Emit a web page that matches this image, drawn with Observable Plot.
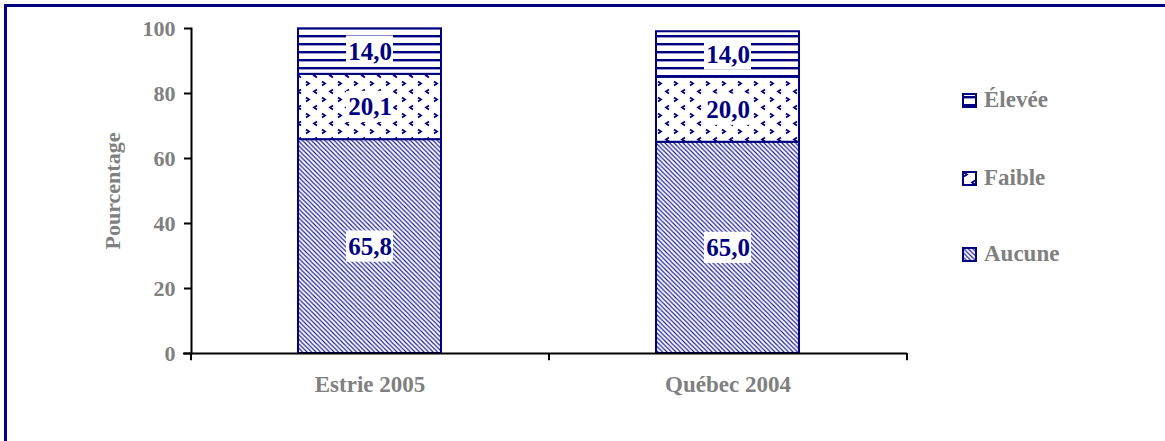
<!DOCTYPE html>
<html>
<head>
<meta charset="utf-8">
<script src="https://cdn.jsdelivr.net/npm/d3@7"></script>
<script src="https://cdn.jsdelivr.net/npm/@observablehq/plot@0.6"></script>
<style>
  html, body { margin: 0; padding: 0; background: #fff; overflow: hidden; }
  body { width: 1165px; height: 441px; position: relative; }
  #frame { position: absolute; left: 4px; top: 4px; width: 1200px; height: 500px; border: 3px solid #000080; box-sizing: border-box; z-index: 10; pointer-events: none; }
  #chart { position: absolute; left: 0; top: 0; }
  #legend { position: absolute; left: 962px; top: 0; font-family: "Liberation Serif", "Times New Roman", serif; font-weight: bold; font-size: 23px; color: #808080; }
  .item { position: absolute; left: 0; display: flex; align-items: center; white-space: nowrap; }
  .item svg { margin-right: 7px; }
</style>
</head>
<body>
<div id="frame"></div>
<div id="chart"></div>
<div id="legend"></div>
<script>
// ---- data ----
const categories = ["Estrie 2005", "Québec 2004"];
const seriesNames = ["Aucune", "Faible", "Élevée"];
const aucune = [65.8, 65.0];
const faible = [20.1, 20.0];
const elevee = [14.0, 14.0];
const yTicks = [0, 20, 40, 60, 80, 100];
const legendOrder = ["Élevée", "Faible", "Aucune"];

const seriesValues = [aucune, faible, elevee];
const patternIds = {"Aucune": "pat-aucune", "Faible": "pat-faible", "Élevée": "pat-elevee"};

// build stacked table
const rows = [];
categories.forEach((c, i) => {
  let base = 0;
  seriesNames.forEach((s, j) => {
    const v = seriesValues[j][i];
    rows.push({cat: c, serie: s, value: v, y1: base, y2: base + v, mid: base + v / 2});
    base += v;
  });
});

const navy = "#000080";
const gray = "#808080";
const font = "Liberation Serif, Times New Roman, serif";

const W = 1165, H = 441, ML = 191, MR = 258, MT = 28, MB = 88;
const pInner = 0.6, pOuter = 0.3;
const step = (W - ML - MR) / (categories.length - pInner + 2 * pOuter);

const plot = Plot.plot({
  width: W, height: H,
  marginLeft: ML, marginRight: MR, marginTop: MT, marginBottom: MB,
  style: {fontFamily: font, background: "white", overflow: "visible"},
  x: {domain: categories, paddingInner: pInner, paddingOuter: pOuter, label: null},
  y: {domain: [0, 100], label: null},
  color: {domain: seriesNames, range: seriesNames.map(s => `url(#${patternIds[s]})`)},
  marks: [
    Plot.rectY(rows, {x: "cat", y1: "y1", y2: "y2", fill: "serie", stroke: navy, strokeWidth: 2}),
    Plot.rectY(rows, {x: "cat", y1: d => d.mid - 4.8, y2: d => d.mid + 4.8, fill: "white", insetLeft: 48, insetRight: 48}),
    Plot.text(rows, {x: "cat", y: "mid", text: d => d.value.toFixed(1).replace(".", ","), fill: navy, fontWeight: "bold", fontSize: 25, fontFamily: font}),
    Plot.axisY({ticks: yTicks, tickSize: 7, tickPadding: 9, stroke: "black", strokeWidth: 2, fill: gray, fontSize: 22, fontWeight: "bold", fontFamily: font,
      label: "Pourcentage", labelAnchor: "center", labelOffset: 87, labelArrow: "none"}),
    Plot.axisX({tickSize: 0, tickPadding: 22, fill: gray, fontSize: 23, fontWeight: "bold", fontFamily: font, label: null}),
    Plot.frame({anchor: "left", stroke: "black", strokeWidth: 2}),
    Plot.ruleY([0], {stroke: "black", strokeWidth: 2, insetLeft: -8}),
    Plot.ruleX(categories, {x: d => d, dx: -step / 2, y1: 0, y2: -2.2, stroke: "black", strokeWidth: 2}),
    Plot.ruleX(categories.slice(-1), {x: d => d, dx: step / 2, y1: 0, y2: -2.2, stroke: "black", strokeWidth: 2})
  ]
});

// pattern definitions
const defs = `
<defs>
  <pattern id="pat-aucune" patternUnits="userSpaceOnUse" width="4.5" height="4.5">
    <rect width="4.5" height="4.5" fill="white"/>
    <path d="M-1,-1 L5.5,5.5 M-1,3.5 L1,5.5 M3.5,-1 L5.5,1" stroke="#1a1a99" stroke-width="1.15"/>
  </pattern>
  <pattern id="pat-faible" patternUnits="userSpaceOnUse" width="16" height="16">
    <rect width="16" height="16" fill="white"/>
    <path d="M2,1.5 L5,3.5 L2,5.5" fill="none" stroke="${navy}" stroke-width="1.8"/>
    <path d="M13,9.5 L10,11.5 L13,13.5" fill="none" stroke="${navy}" stroke-width="1.8"/>
  </pattern>
  <pattern id="pat-elevee" patternUnits="userSpaceOnUse" width="8" height="8">
    <rect width="8" height="8" fill="white"/>
    <rect x="0" y="3" width="8" height="2.4" fill="${navy}"/>
  </pattern>
</defs>`;
plot.insertAdjacentHTML("afterbegin", defs);
document.getElementById("chart").appendChild(plot);

// legend
const legend = document.getElementById("legend");
const legendY = {"Élevée": 101, "Faible": 179, "Aucune": 255};
legendOrder.forEach(s => {
  const div = document.createElement("div");
  div.className = "item";
  div.style.top = (legendY[s] - 14) + "px";
  div.innerHTML = `<svg width="15" height="15"><rect x="1" y="1" width="13" height="13" fill="url(#${patternIds[s]})" stroke="${navy}" stroke-width="2"/></svg><span>${s}</span>`;
  legend.appendChild(div);
});
</script>
</body>
</html>
